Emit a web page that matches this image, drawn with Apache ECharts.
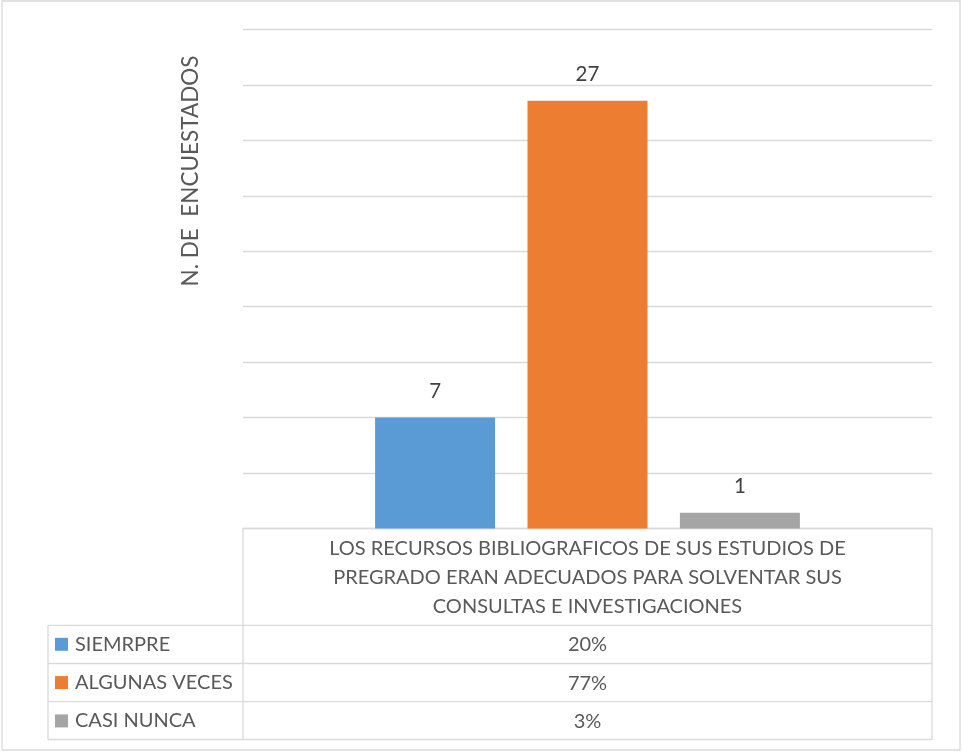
<!DOCTYPE html>
<html>
<head>
<meta charset="utf-8">
<script src="https://cdn.jsdelivr.net/npm/echarts@6/dist/echarts.min.js"></script>
<style>
html,body{margin:0;padding:0;background:#fff;}
#chart{width:963px;height:752px;}
</style>
</head>
<body>
<div id="chart"></div>
<script>
// ---- data ----
var categories = ['LOS RECURSOS BIBLIOGRAFICOS DE SUS ESTUDIOS DE\nPREGRADO ERAN ADECUADOS PARA SOLVENTAR SUS\nCONSULTAS E INVESTIGACIONES'];
var seriesNames = ['SIEMRPRE', 'ALGUNAS VECES', 'CASI NUNCA'];
var seriesValues = [[7], [27], [1]];
var percentLabels = ['20%', '77%', '3%'];
var seriesColors = ['#5B9BD5', '#ED7D31', '#A5A5A5'];
var yAxisTitle = 'N. DE  ENCUESTADOS';
var yMin = 0, yMax = 31.5, yInterval = 3.5;

// ---- layout ----
var FONT = 'Lato';
var TXT = '#595959';
var LINE = '#d9d9d9';
var gL = 243, gR = 932, gT = 29.5, gB = 528.5;
var tableLeft = 48;
var rowLines = [625.3, 663.5, 701.7, 739.5];
var TFS = 20;

var chart = echarts.init(document.getElementById('chart'));

var series = seriesNames.map(function (n, i) {
  return {
    name: n,
    type: 'bar',
    data: seriesValues[i],
    barWidth: 120,
    barGap: '27%',
    itemStyle: { color: seriesColors[i] },
    label: {
      show: true, position: 'top', distance: 16,
      color: '#404040', fontFamily: FONT, fontSize: 20.5
    }
  };
});

var graphics = [];
graphics.push({ type: 'rect', shape: { x: 2, y: 1, width: 958, height: 749 },
  style: { fill: 'none', stroke: LINE, lineWidth: 1.3 }, silent: true });
graphics.push({ type: 'text', x: 191, y: 171, rotation: Math.PI / 2,
  style: { text: yAxisTitle, fill: TXT, font: '22.5px ' + FONT, textAlign: 'center', textVerticalAlign: 'middle' } });
function hline(x1, x2, y) {
  graphics.push({ type: 'line', shape: { x1: x1, y1: y, x2: x2, y2: y }, style: { stroke: LINE, lineWidth: 1.3 }, silent: true });
}
function vline(x, y1, y2) {
  graphics.push({ type: 'line', shape: { x1: x, y1: y1, x2: x, y2: y2 }, style: { stroke: LINE, lineWidth: 1.3 }, silent: true });
}
vline(gL, gB, rowLines[3]);
vline(gR, gB, rowLines[3]);
vline(tableLeft, rowLines[0], rowLines[3]);
rowLines.forEach(function (y) { hline(tableLeft, gR, y); });
percentLabels.forEach(function (p, i) {
  graphics.push({ type: 'text', x: (gL + gR) / 2, y: (rowLines[i] + rowLines[i + 1]) / 2 + 0.5,
    style: { text: p, fill: TXT, font: TFS + 'px ' + FONT, textAlign: 'center', textVerticalAlign: 'middle' } });
});

chart.setOption({
  animation: false,
  backgroundColor: '#fff',
  grid: { left: gL, right: 963 - gR, top: gT, bottom: 752 - gB, containLabel: false },
  legend: {
    data: seriesNames,
    orient: 'vertical',
    left: 55, top: 634.3, padding: 0,
    itemWidth: 13, itemHeight: 13, itemGap: 18.3,
    icon: 'rect',
    textStyle: { color: TXT, fontFamily: FONT, fontSize: TFS, lineHeight: 20, padding: [0, 0, 0, 2] }
  },
  xAxis: {
    type: 'category',
    data: categories,
    axisLine: { show: true, lineStyle: { color: LINE, width: 1.3 } },
    axisTick: { show: false },
    axisLabel: { color: TXT, fontFamily: FONT, fontSize: TFS, lineHeight: 28.7, margin: 6, align: 'center' }
  },
  yAxis: {
    type: 'value', min: yMin, max: yMax, interval: yInterval,
    axisLabel: { show: false },
    axisLine: { show: false }, axisTick: { show: false },
    splitLine: { lineStyle: { color: LINE, width: 1.3 } }
  },
  series: series,
  graphic: graphics
});
</script>
</body>
</html>
